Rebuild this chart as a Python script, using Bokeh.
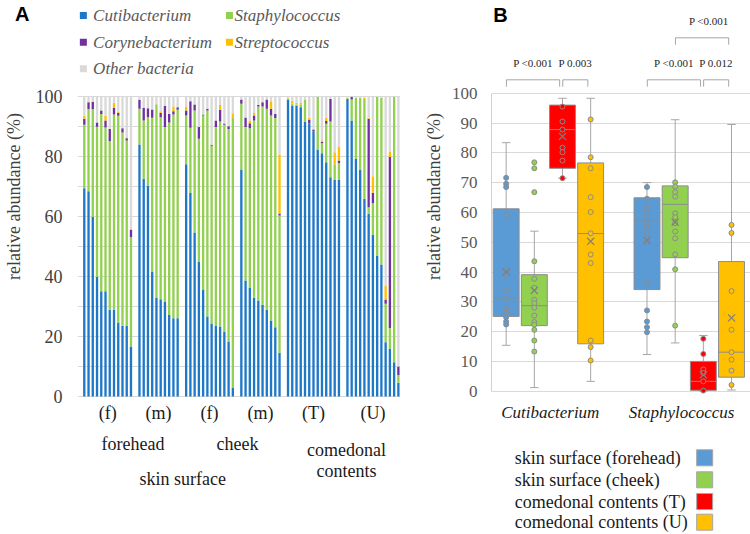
import math
from bokeh.plotting import figure
from bokeh.models import ColumnDataSource, Range1d, FixedTicker
from bokeh.layouts import row, column
from bokeh.embed import file_html
from bokeh.resources import INLINE
from bokeh.core.properties import value

# ---------------- Panel A data (relative abundance %, per sample) ----------------
taxa = ["Cutibacterium", "Staphylococcus", "Corynebacterium", "Streptococcus", "Other bacteria"]
taxa_colors = ["#1e78c8", "#92d050", "#7030a0", "#ffc000", "#d9d9d9"]

fh_f_cuti = [69.4, 68.4, 59.8, 39.8, 35.1, 35.1, 28.9, 28.9, 24.7, 23.6, 23.6, 16.7]
fh_f_staph = [21.2, 27.4, 36.0, 50.1, 59.1, 54.6, 56.2, 65.1, 68.9, 64.4, 61.7, 36.4]
fh_f_cory = [2.0, 2.3, 2.4, 1.4, 1.1, 2.3, 4.1, 2.2, 1.0, 1.4, 0.8, 2.5]
fh_f_strep = [1.0, 0.2, 0.2, 0.0, 0.0, 1.7, 0.0, 1.7, 0.2, 0.0, 0.3, 0.4]

fh_m_cuti = [84.0, 72.6, 70.3, 41.7, 32.8, 32.4, 31.7, 27.2, 26.1, 26.1]
fh_m_staph = [11.9, 19.4, 22.8, 51.2, 64.6, 60.7, 58.1, 64.1, 67.9, 69.5]
fh_m_cory = [3.0, 4.2, 3.0, 2.8, 0.0, 1.4, 7.1, 2.9, 1.1, 0.8]
fh_m_strep = [0.1, 0.2, 0.0, 0.0, 0.0, 0.6, 0.0, 0.0, 1.6, 0.0]

ck_f_cuti = [77.4, 67.8, 54.7, 44.8, 35.7, 26.7, 24.3, 23.7, 23.3, 21.7, 18.3, 2.8]
ck_f_staph = [16.3, 21.8, 40.6, 41.1, 58.0, 68.6, 59.3, 66.1, 68.4, 68.9, 70.9, 90.3]
ck_f_cory = [1.6, 8.8, 2.0, 3.9, 0.3, 0.5, 0.3, 2.2, 3.9, 0.4, 0.9, 0.0]
ck_f_strep = [1.4, 0.0, 0.0, 0.0, 0.0, 0.0, 0.0, 0.0, 1.6, 0.0, 0.0, 1.3]

ck_m_cuti = [75.7, 38.7, 36.2, 32.9, 32.0, 30.6, 28.9, 25.3, 23.1, 14.6]
ck_m_staph = [21.9, 51.1, 53.2, 59.1, 64.7, 66.1, 67.0, 68.4, 69.7, 45.7]
ck_m_cory = [1.3, 3.0, 1.7, 1.7, 0.5, 1.4, 3.0, 2.2, 1.4, 0.7]
ck_m_strep = [0.3, 0.4, 0.9, 0.8, 0.0, 0.0, 0.3, 2.5, 0.0, 19.7]

com_t_cuti = [99.0, 97.0, 97.0, 96.4, 91.7, 91.1, 88.4, 82.3, 81.1, 78.1, 73.1, 72.2, 72.2]
com_t_staph = [0.3, 0.6, 0.3, 0.9, 7.3, 0.0, 0.0, 17.5, 3.3, 12.8, 18.6, 5.1, 5.6]
com_t_cory = [0.0, 0.0, 0.0, 0.0, 0.0, 1.1, 0.6, 0.0, 0.4, 0.9, 7.5, 0.0, 0.9]
com_t_strep = [0.3, 1.0, 0.5, 0.5, 0.0, 0.7, 0.0, 0.0, 0.6, 1.1, 0.0, 4.1, 4.6]

com_u_cuti = [99.2, 92.0, 79.2, 75.7, 65.9, 60.9, 53.9, 47.0, 44.0, 18.1, 15.9, 11.4, 4.6]
com_u_staph = [0.2, 7.0, 20.4, 23.9, 33.3, 2.2, 10.5, 52.8, 55.6, 12.8, 6.9, 88.4, 2.6]
com_u_cory = [0.0, 0.8, 0.0, 0.0, 0.0, 29.5, 3.5, 0.0, 0.0, 1.4, 57.0, 0.0, 2.8]
com_u_strep = [0.2, 0.0, 0.0, 0.0, 0.4, 0.4, 5.5, 0.0, 0.0, 4.5, 1.9, 0.0, 0.0]

group_labels = ["(f)", "(m)", "(f)", "(m)", "(T)", "(U)"]
site_labels = ["forehead", "cheek"]
source_labels = ["skin surface", "comedonal", "contents"]
a_yticks = [0, 20, 40, 60, 80, 100]
grid_ticks = list(range(0, 101, 10))

# ---------------- Panel B data (box plot statistics, %) ----------------
genera = ["Cutibacterium", "Staphylococcus"]
sample_types = ["skin surface (forehead)", "skin surface (cheek)",
                "comedonal contents (T)", "comedonal contents (U)"]
type_colors = ["#5b9bd5", "#92d050", "#ff0000", "#ffc000"]

box_q1 = [25.1, 22.0, 74.8, 15.9, 34.1, 44.8, 0.3, 4.7]
box_median = [31.3, 28.7, 87.8, 52.9, 57.5, 62.7, 3.3, 13.1]
box_q3 = [61.2, 39.1, 96.0, 76.6, 64.9, 68.9, 10.0, 43.5]
box_low = [15.4, 1.2, 71.5, 3.3, 12.3, 16.2, 0.0, 0.4]
box_high = [83.4, 53.7, 98.3, 98.3, 70.0, 91.1, 18.7, 89.5]
box_mean = [40.0, 33.8, 85.5, 50.3, 50.6, 56.7, 5.5, 24.6]

pts_cuti_fh = [71.6, 69.6, 68.5, 59.0, 40.7, 39.1, 34.0, 31.0, 27.6, 26.2, 24.8, 23.4, 22.4]
pts_cuti_ck = [76.8, 74.8, 66.8, 43.6, 37.7, 34.7, 30.7, 29.5, 28.0, 25.4, 23.2, 22.3, 20.6, 17.0, 13.3]
pts_cuti_t = [95.5, 90.5, 87.8, 81.7, 80.2, 77.4, 71.5]
pts_cuti_u = [91.2, 78.5, 74.8, 65.1, 60.1, 53.0, 45.9, 43.0, 17.0, 14.8, 10.3]
pts_staph_fh = [68.5, 64.6, 61.2, 59.0, 56.7, 55.3, 52.8, 50.2, 36.4, 27.1, 23.4, 21.5, 19.8]
pts_staph_ck = [70.1, 68.7, 66.8, 65.3, 59.7, 58.4, 56.4, 53.6, 51.3, 45.9, 40.9, 22.0]
pts_staph_t = [17.6, 12.5, 7.3, 6.1, 3.3, 0.2]
pts_staph_u = [55.8, 53.1, 33.6, 20.6, 13.1, 10.6, 6.9, 2.1]

comparisons = [("P <0.001", 0, 2, 0), ("P 0.003", 2, 3, 0), ("P <0.001", 4, 6, 0),
               ("P 0.012", 6, 7, 0), ("P <0.001", 5, 7, 1)]

SERIF = "'Liberation Serif'"
SANS = "'Liberation Sans'"
TITLE = "relative abundance (%)"
H = 534

# ---------------- layout geometry (page pixels) ----------------
A_X0, A_PPU = 75.96, 4.3495       # page x of bar slot 0, px per slot
A_Y0, A_PPV = 396.0, 3.0          # page y of 0 %, px per %
B_X0, B_PPU = 504.7, 28.28
B_Y0, B_PPV = 390.7, 2.98


def ax(px): return (px - A_X0) / A_PPU
def ay(py): return (A_Y0 - py) / A_PPV
def bxp(px): return (px - B_X0) / B_PPU
def byp(py): return (B_Y0 - py) / B_PPV


def bare(w, h, xr, yr, **kw):
    f = figure(width=w, height=h, x_range=xr, y_range=yr, output_backend="svg",
               toolbar_location=None, min_border_left=kw.get("l", 0), min_border_right=kw.get("r", 0),
               min_border_top=0, min_border_bottom=0)
    f.outline_line_color = None
    f.background_fill_color = "white"
    f.border_fill_color = "white"
    f.xaxis.visible = False
    f.xgrid.visible = False
    if not kw.get("keep_y", False):
        f.yaxis.visible = False
        f.ygrid.visible = False
    return f


def style_yaxis(f, ticks, size, standoff):
    f.yaxis.ticker = FixedTicker(ticks=ticks)
    f.ygrid.ticker = FixedTicker(ticks=grid_ticks)
    f.ygrid.grid_line_color = "#d9d9d9"
    f.yaxis.major_tick_line_color = None
    f.yaxis.minor_tick_line_color = None
    f.yaxis.major_label_text_font = SERIF
    f.yaxis.major_label_text_font_size = size
    f.yaxis.major_label_text_color = "#404040"
    f.yaxis.major_label_standoff = standoff


# ================= title strip A =================
tA = bare(32, H, Range1d(0, 32), Range1d(0, H))
tA.text(x=[21.7], y=[H - 13.5], text=["A"], text_font=value(SANS), text_font_style="bold",
        text_font_size="20px", text_color="black", text_align="center", text_baseline="middle")
tA.text(x=[13.3], y=[H - 196], text=[TITLE], angle=math.pi / 2, text_font=value(SERIF),
        text_font_size="18px", text_color="#404040", text_align="center", text_baseline="middle")

# ================= Panel A =================
groups = [
    (fh_f_cuti, fh_f_staph, fh_f_cory, fh_f_strep),
    (fh_m_cuti, fh_m_staph, fh_m_cory, fh_m_strep),
    (ck_f_cuti, ck_f_staph, ck_f_cory, ck_f_strep),
    (ck_m_cuti, ck_m_staph, ck_m_cory, ck_m_strep),
    (com_t_cuti, com_t_staph, com_t_cory, com_t_strep),
    (com_u_cuti, com_u_staph, com_u_cory, com_u_strep),
]
xs, cu, st, co, sp, ot = [], [], [], [], [], []
centers = []
pos = 0
for g in groups:
    n = len(g[0])
    gx = list(range(pos, pos + n))
    centers.append(sum(gx) / n)
    xs += gx
    for i in range(n):
        cu.append(g[0][i]); st.append(g[1][i]); co.append(g[2][i]); sp.append(g[3][i])
        ot.append(max(0.0, 100.0 - g[0][i] - g[1][i] - g[2][i] - g[3][i]))
    pos += n + 1
srcA = ColumnDataSource(dict(x=xs, cuti=cu, staph=st, cory=co, strep=sp, other=ot))

pA = bare(388, H, Range1d(ax(69), ax(400)), Range1d(ay(H), ay(0)), l=37, r=20, keep_y=True)
style_yaxis(pA, a_yticks, "18px", 9)
pA.yaxis.axis_line_color = None

pA.vbar_stack(["cuti", "staph", "cory", "strep", "other"], x="x", width=0.55,
              fill_color=taxa_colors, line_color=None, source=srcA)

# legend A
leg_col = [0, 1, 0, 1, 0]
leg_row = [0, 0, 1, 1, 2]
col_sq = [ax(75.0), ax(224.7)]
col_tx = [ax(85.0), ax(230.0)]
row_y = [ay(15.0), ay(41.7), ay(68.3)]
pA.scatter(x=[col_sq[c] for c in leg_col], y=[row_y[r] for r in leg_row], marker="square",
           size=7, fill_color=taxa_colors, line_color=None)
pA.text(x=[col_tx[c] for c in leg_col], y=[row_y[r] for r in leg_row], text=taxa,
        text_font=value(SERIF), text_font_style="italic", text_font_size="17px",
        text_color="#595959", text_baseline="middle", text_align="left")

# category labels A
pA.text(x=centers, y=[ay(412.7)] * len(centers), text=group_labels, text_font=value(SERIF),
        text_font_size="18px", text_color="#1a1a1a", text_align="center", text_baseline="middle")
site_x = [(centers[0] + centers[1]) / 2, (centers[2] + centers[3]) / 2 + 0.6]
pA.text(x=site_x, y=[ay(443.3)] * 2, text=site_labels, text_font=value(SERIF),
        text_font_size="18px", text_color="#1a1a1a", text_align="center", text_baseline="middle")
com_x = (centers[4] + centers[5]) / 2 + 0.8
pA.text(x=[(centers[0] + centers[3]) / 2 - 0.3, com_x, com_x],
        y=[ay(478.3), ay(449.3), ay(470.7)], text=source_labels,
        text_font=value(SERIF), text_font_size="18px", text_color="#1a1a1a",
        text_align="center", text_baseline="middle")

# ================= title strip B =================
tB = bare(28, H, Range1d(0, 28), Range1d(0, H))
tB.text(x=[13.0], y=[H - 196], text=[TITLE], angle=math.pi / 2, text_font=value(SERIF),
        text_font_size="18px", text_color="#404040", text_align="center", text_baseline="middle")

# ================= Panel B =================
bx = [0, 1, 2, 3, 5, 6, 7, 8]
bcol = type_colors * 2
TOP_H = 30

bTop = bare(302, TOP_H, Range1d(bxp(448), bxp(750)), Range1d(byp(TOP_H), byp(0)))
bTop.text(x=[bxp(458.5)], y=[byp(14.0)], text=["B"], text_font=value(SANS), text_font_style="bold",
          text_font_size="20px", text_color="black", text_align="center", text_baseline="middle")

pB = bare(302, H - TOP_H, Range1d(bxp(490), bxp(750)), Range1d(byp(H), byp(TOP_H)), l=42, keep_y=True)
style_yaxis(pB, grid_ticks, "17px", 8)
pB.yaxis.major_label_text_color = "#595959"
pB.yaxis.bounds = (0, 100)
pB.yaxis.axis_line_color = "#d0d0d0"

bw = 0.92
cap = 0.15
srcB = ColumnDataSource(dict(x=bx, q1=box_q1, med=box_median, q3=box_q3, lo=box_low, hi=box_high,
                             mean=box_mean, color=bcol,
                             xl=[v - bw / 2 for v in bx], xr=[v + bw / 2 for v in bx],
                             cl=[v - cap for v in bx], cr=[v + cap for v in bx]))
pB.segment(x0="x", y0="lo", x1="x", y1="hi", line_color="#a6a6a6", line_width=1, source=srcB)
pB.segment(x0="cl", y0="lo", x1="cr", y1="lo", line_color="#a6a6a6", line_width=1, source=srcB)
pB.segment(x0="cl", y0="hi", x1="cr", y1="hi", line_color="#a6a6a6", line_width=1, source=srcB)
pB.vbar(x="x", top="q3", bottom="q1", width=bw, fill_color="color", line_color="#8c8c8c",
        line_width=1, source=srcB)
pB.segment(x0="xl", y0="med", x1="xr", y1="med", line_color="#8c8c8c", line_width=1, source=srcB)

all_pts = [pts_cuti_fh, pts_cuti_ck, pts_cuti_t, pts_cuti_u,
           pts_staph_fh, pts_staph_ck, pts_staph_t, pts_staph_u]
px, py, pc = [], [], []
for i, pts in enumerate(all_pts):
    for v in pts:
        px.append(bx[i]); py.append(v); pc.append(bcol[i])
pB.scatter(x=px, y=py, marker="circle", size=5, fill_color=pc, line_color="#8c8c8c", line_width=1)
pB.scatter(x="x", y="mean", marker="x", size=10, line_color="#7f7f7f", line_width=1.2, source=srcB)

# significance brackets
level_y = [byp(79.3), byp(37.3)]
level_txt = [byp(62.3), byp(20.7)]
leg = 2.3
bxs, bys = [], []
txt = {0: ([], [], []), 1: ([], [], [])}
for lab, a, b, lev in comparisons:
    x0 = bx[a] + 0.01
    x1 = bx[b] - 0.1
    y = level_y[lev]
    bxs.append([x0, x0, x1, x1]); bys.append([y - leg, y, y, y - leg])
    txt[lev][0].append((x0 + x1) / 2); txt[lev][1].append(level_txt[lev]); txt[lev][2].append(lab)
pB.multi_line(xs=bxs, ys=bys, line_color="#a6a6a6", line_width=1)
for fig, lev in ((pB, 0), (bTop, 1)):
    fig.text(x=txt[lev][0], y=txt[lev][1], text=txt[lev][2], text_font=value(SERIF),
             text_font_size="11px", text_color="#262626", text_align="center", text_baseline="middle")

# category labels B
pB.text(x=[bxp(549.0), bxp(680.8)], y=[byp(412.3)] * 2, text=genera, text_font=value(SERIF),
        text_font_style="italic", text_font_size="17px", text_color="#1a1a1a",
        text_align="center", text_baseline="middle")

# legend B
leg_y = [byp(457.3), byp(479.3), byp(501.0), byp(521.7)]
pB.text(x=[bxp(513.3)] * 4, y=leg_y, text=sample_types, text_font=value(SERIF), text_font_size="18px",
        text_color="#1a1a1a", text_align="left", text_baseline="middle")
pB.scatter(x=[bxp(704.0)] * 4, y=leg_y, marker="square", size=16, fill_color=type_colors,
           line_color="#a6a6a6", line_width=1)

layout = row(tA, pA, tB, column(bTop, pB))
open("out.html", "w").write(file_html(layout, INLINE))
